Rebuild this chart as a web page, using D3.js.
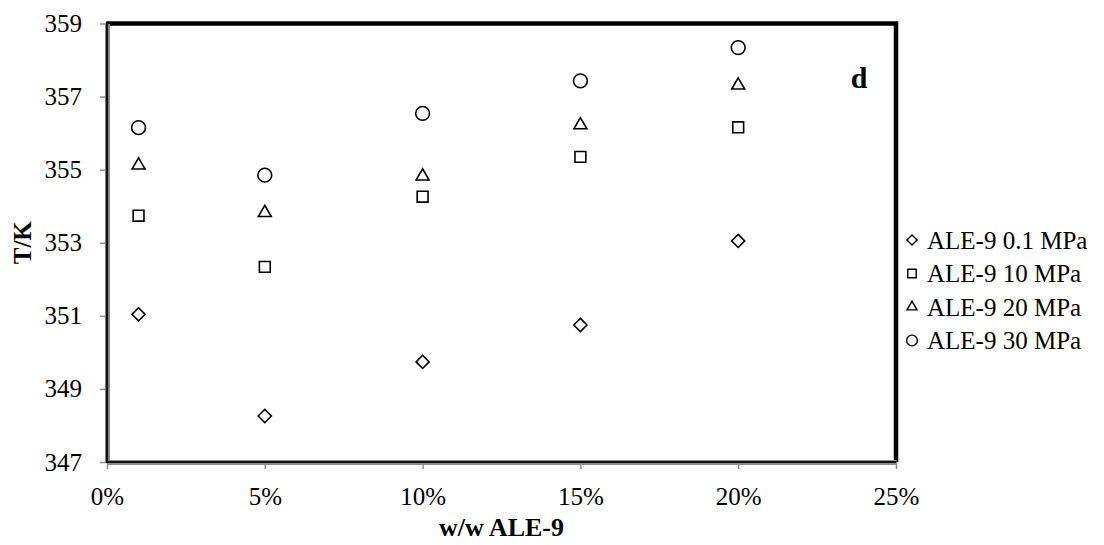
<!DOCTYPE html>
<html>
<head>
<meta charset="utf-8">
<script src="https://cdn.jsdelivr.net/npm/d3@7"></script>
<style>
  body { margin: 0; background: #fff; }
  text { font-family: "Liberation Serif", "Times New Roman", serif; fill: #000; }
</style>
</head>
<body>
<div class="chart"></div>
<script>
// data
const loadings = [0.01, 0.05, 0.10, 0.15, 0.20];
const seriesNames = ["ALE-9 0.1 MPa", "ALE-9 10 MPa", "ALE-9 20 MPa", "ALE-9 30 MPa"];
const t01 = [351.04, 348.26, 349.74, 350.75, 353.05];
const t10 = [353.74, 352.34, 354.26, 355.35, 356.16];
const t20 = [355.12, 353.82, 354.82, 356.22, 357.31];
const t30 = [356.15, 354.85, 356.54, 357.43, 358.34];
const xTicks = [0, 0.05, 0.10, 0.15, 0.20, 0.25];
const yTicks = [347, 349, 351, 353, 355, 357, 359];

const wdth = 1104, hght = 545;
const margin = {top: 23.5, right: 208, bottom: 83, left: 107};

const svg = d3.select(".chart")
  .append("svg")
  .attr("width", wdth)
  .attr("height", hght);

const x = d3.scaleLinear()
  .domain([0, 0.25])
  .range([margin.left, wdth - margin.right]);

const y = d3.scaleLinear()
  .domain([347, 359])
  .range([hght - margin.bottom, margin.top]);

// symbols: diamond, square, triangle, circle
const shapes = [d3.symbolDiamond2, d3.symbolSquare2, d3.symbolTriangle2, d3.symbolCircle];
const sizes = [110, 150, 120, 150];
const series = [t01, t10, t20, t30].map((vals, i) => ({
  name: seriesNames[i],
  shape: shapes[i],
  size: sizes[i],
  points: vals.map((v, j) => ({x: loadings[j], y: v}))
}));

// top and right frame (thick black)
svg.append("path")
  .attr("d", `M${x(0)},${y(359)} H${x(0.25)} V${y(347)}`)
  .attr("fill", "none")
  .attr("stroke", "#000")
  .attr("stroke-width", 4.5);

// axes
const xAxis = svg.append("g")
  .attr("transform", `translate(0,${y(347)})`)
  .call(d3.axisBottom(x).tickValues(xTicks).tickFormat(d3.format(".0%")).tickSize(7).tickSizeOuter(0));

const yAxis = svg.append("g")
  .attr("transform", `translate(${x(0)},0)`)
  .call(d3.axisLeft(y).tickValues(yTicks).tickFormat(d3.format("d")).tickSize(7).tickSizeOuter(0));

[xAxis, yAxis].forEach(g => {
  g.select(".domain").attr("stroke", "#8c8c8c").attr("stroke-width", 5);
  g.selectAll(".tick line").attr("stroke", "#8c8c8c").attr("stroke-width", 1.5);
  g.selectAll(".tick text")
    .style("font-family", "'Liberation Serif', serif")
    .style("font-size", "25px")
    .attr("fill", "#000");
});
xAxis.selectAll(".tick text").attr("dy", "1.3em");
yAxis.selectAll(".tick text").attr("x", -25);

// dark core of the axis lines
svg.append("path")
  .attr("d", `M${x(0)},${y(359) - 2} V${y(347)} H${x(0.25)}`)
  .attr("fill", "none")
  .attr("stroke", "#111")
  .attr("stroke-width", 2.2);

// markers
series.forEach(s => {
  svg.append("g").selectAll("path")
    .data(s.points)
    .join("path")
    .attr("transform", d => `translate(${x(d.x)},${y(d.y)})`)
    .attr("d", d3.symbol().type(s.shape).size(s.size))
    .attr("fill", "none")
    .attr("stroke", "#000")
    .attr("stroke-width", 1.6);
});

// panel letter
svg.append("text")
  .attr("x", 859)
  .attr("y", 88)
  .attr("text-anchor", "middle")
  .style("font-size", "30px")
  .style("font-weight", "bold")
  .text("d");

// axis titles
svg.append("text")
  .attr("x", (x(0) + x(0.25)) / 2)
  .attr("y", 536)
  .attr("text-anchor", "middle")
  .style("font-size", "26px")
  .style("font-weight", "bold")
  .text("w/w ALE-9");

svg.append("text")
  .attr("transform", `translate(31,${(y(347) + y(359)) / 2}) rotate(-90)`)
  .attr("text-anchor", "middle")
  .style("font-size", "25px")
  .style("font-weight", "bold")
  .text("T/K");

// legend
const legend = svg.append("g")
  .selectAll("g")
  .data(series)
  .join("g")
  .attr("transform", (d, i) => `translate(912,${240 + i * 33.5})`);

legend.append("path")
  .attr("d", d => d3.symbol().type(d.shape).size(d.size * 0.6)())
  .attr("fill", "none")
  .attr("stroke", "#000")
  .attr("stroke-width", 1.4);

legend.append("text")
  .attr("x", 15)
  .attr("dy", "0.35em")
  .style("font-size", "25px")
  .text(d => d.name);
</script>
</body>
</html>
